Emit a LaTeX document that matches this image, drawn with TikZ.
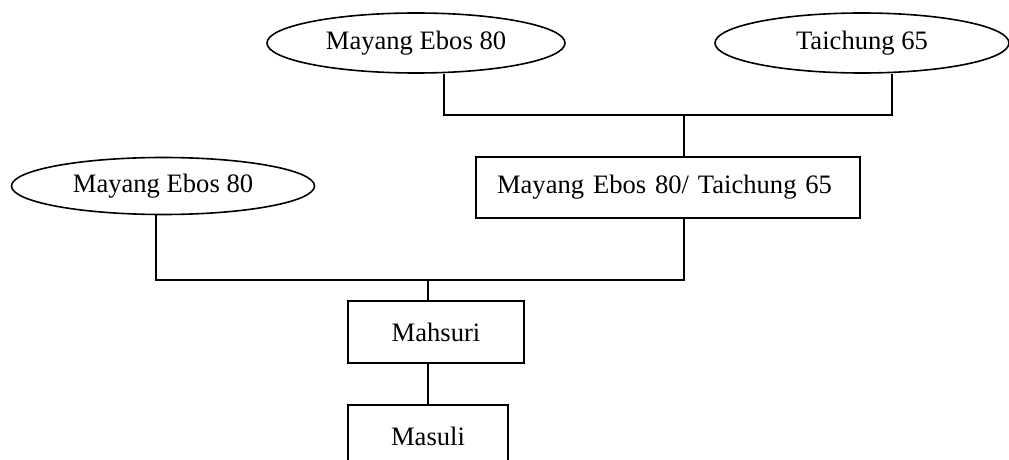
\documentclass[tikz,border=0pt]{standalone}
\usepackage{fontspec}
\setmainfont{Liberation Serif}
\usetikzlibrary{shapes.geometric}
\begin{document}
\begin{tikzpicture}[x=0.5pt, y=-0.5pt, thick, font=\fontsize{13.3}{16}\selectfont,
    parent/.style={ellipse, draw, inner sep=0pt, minimum height=30pt},
    cross/.style={rectangle, draw, inner sep=0pt, minimum height=31pt}]
    \useasboundingbox (0,0) rectangle (1009,460);

    % Parents and crosses
    \node[parent, minimum width=149pt] (ebosA) at (416,43) {Mayang Ebos 80};
    \node[parent, minimum width=147pt] (taichung) at (862,43) {Taichung 65};
    \node[cross, minimum width=192pt, minimum height=30.5pt, text width=171pt, align=left] (fone) at (668,187.5) {Mayang Ebos 80/ Taichung 65};
    \node[parent, minimum width=151.5pt, minimum height=28.5pt] (ebosB) at (163,186) {Mayang Ebos 80};
    \node[cross, minimum width=88pt] (mahsuri) at (436,332) {Mahsuri};
    \node[cross, minimum width=80pt] (masuli) at (428,436) {Masuli};

    % Junctions
    \coordinate (jtop) at (684,115);
    \coordinate (jmid) at (428,280);

    % Connectors
    \draw ([xshift=14pt]ebosA.south) |- (jtop) -| ([xshift=15pt]taichung.south);
    \draw (jtop) -- (jtop |- fone.north);
    \draw ([xshift=-3.5pt]ebosB.south) |- (jmid) -| (jtop |- fone.south);
    \draw (jmid) -- (jmid |- mahsuri.north);
    \draw (jmid |- mahsuri.south) -- (jmid |- masuli.north);

\end{tikzpicture}
\end{document}
